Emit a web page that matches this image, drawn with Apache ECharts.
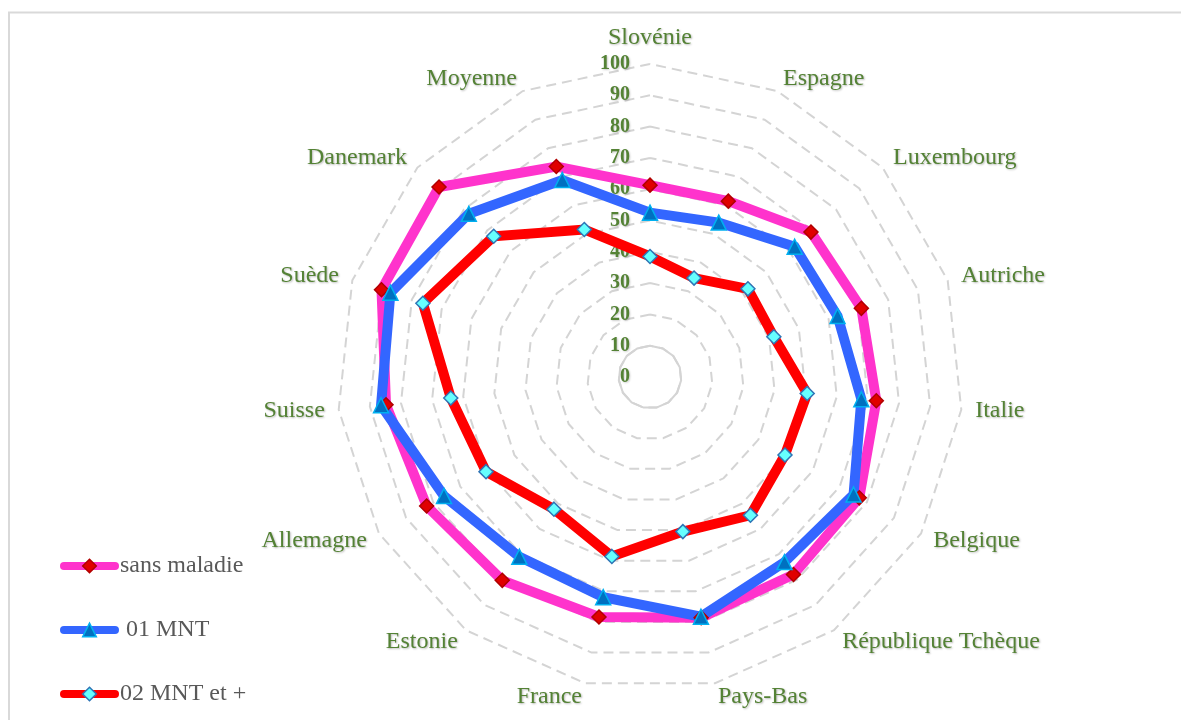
<!DOCTYPE html>
<html>
<head>
<meta charset="utf-8">
<script src="https://cdn.jsdelivr.net/npm/echarts@6/dist/echarts.min.js"></script>
<style>
html,body{margin:0;padding:0;background:#fff;}
#chart{width:1181px;height:720px;}
</style>
</head>
<body>
<div id="chart"></div>
<script>
// ---- data (clockwise from top) ----
const categories = ['Slovénie','Espagne','Luxembourg','Autriche','Italie','Belgique','République Tchèque','Pays-Bas','France','Estonie','Allemagne','Suisse','Suède','Danemark','Moyenne'];
const seriesNames = ['sans maladie', ' 01 MNT', '02 MNT et +'];
const sansMaladie = [61.3, 61.5, 69.2, 71.0, 72.7, 77.2, 78.0, 78.6, 78.4, 80.3, 82.4, 84.8, 90.2, 90.7, 73.6];
const mnt01 =       [52.5, 54.0, 62.2, 63.0, 67.9, 75.1, 73.1, 78.3, 71.9, 71.0, 76.0, 86.4, 87.2, 77.9, 68.9];
const mnt02 =       [38.5, 34.6, 42.1, 41.6, 50.5, 49.8, 54.6, 50.5, 58.6, 52.2, 60.5, 64.0, 76.3, 67.2, 51.6];
const tickValues = [0,10,20,30,40,50,60,70,80,90,100];

// ECharts radar runs counter-clockwise: reorder so the picture runs clockwise
const order = [0].concat(categories.slice(1).map((_, i) => categories.length - 1 - i));
const reorder = arr => order.map(i => arr[i]);

const CX = 650, CY = 377, R = 313;
const green = '#548235';
const serif = '"Liberation Serif", "Times New Roman", serif';

const indicators = order.map((i, k) => {
  const ind = { name: categories[i], min: tickValues[0], max: tickValues[tickValues.length - 1] };
  if (k === 0) ind.axisLabel = { show: true };
  return ind;
});

const styles = [
  { line: '#ff33cc', symbol: 'diamond', size: 14, fill: '#e00000', border: '#b00000' },
  { line: '#3366ff', symbol: 'triangle', size: 15, fill: '#0070c0', border: '#00b0f0' },
  { line: '#ff0000', symbol: 'diamond', size: 14, fill: '#66ffff', border: '#2e75b6' }
];
const values = [sansMaladie, mnt01, mnt02];

const legendSeries = seriesNames.map((n, k) => ({
  type: 'line', name: n, xAxisIndex: 0, yAxisIndex: 0, data: [],
  symbol: styles[k].symbol, symbolSize: styles[k].size,
  lineStyle: { color: styles[k].line, width: 8, cap: 'round' },
  itemStyle: { color: styles[k].fill, borderColor: styles[k].border, borderWidth: 1.5 }
}));

const radarSeries = seriesNames.map((n, k) => ({
  type: 'radar', name: n, radarIndex: 0,
  symbol: styles[k].symbol, symbolSize: styles[k].size,
  lineStyle: { color: styles[k].line, width: 10, join: 'miter' },
  itemStyle: { color: styles[k].fill, borderColor: styles[k].border, borderWidth: 1.5 },
  data: [{ name: n, value: reorder(values[k]) }]
}));

const option = {
  animation: false,
  backgroundColor: '#fff',
  graphic: [{
    type: 'rect', shape: { x: 9, y: 12.5, width: 1180, height: 720 },
    style: { fill: 'none', stroke: '#d9d9d9', lineWidth: 2 }, silent: true
  }],
  grid: { show: false, left: 0, top: 0, width: 1, height: 1 },
  xAxis: { show: false, type: 'category', data: [] },
  yAxis: { show: false, type: 'value' },
  legend: {
    orient: 'vertical', left: 60, top: 554, height: 170, padding: 0,
    itemWidth: 51, itemHeight: 17, itemGap: 40,
    textStyle: { fontFamily: serif, fontSize: 24, color: '#595959' },
    data: seriesNames.map((n, k) => ({
      name: n,
      lineStyle: { color: styles[k].line, width: 8, cap: 'round' },
      itemStyle: { color: styles[k].fill, borderColor: styles[k].border, borderWidth: 1.5 }
    }))
  },
  radar: [{
    center: [CX, CY], radius: R, startAngle: 90, shape: 'polygon',
    splitNumber: tickValues.length - 1,
    indicator: indicators,
    axisName: {
      color: green, fontFamily: serif, fontSize: 24,
      textShadowColor: 'rgba(0,0,0,0.28)', textShadowBlur: 2, textShadowOffsetX: 1, textShadowOffsetY: 1
    },
    nameGap: 14,
    axisLine: { show: false },
    axisTick: { show: false },
    axisLabel: {
      show: false, color: green, fontFamily: serif, fontSize: 20, fontWeight: 'bold', margin: 20,
      textShadowColor: 'rgba(0,0,0,0.2)', textShadowBlur: 2, textShadowOffsetX: 1, textShadowOffsetY: 1
    },
    splitLine: { lineStyle: { color: '#d4d4d4', width: 2, type: [10, 6] } },
    splitArea: { show: false }
  }, {
    center: [CX, CY], radius: R * (tickValues[1] - tickValues[0]) / (tickValues[tickValues.length - 1] - tickValues[0]),
    startAngle: 90, shape: 'polygon', splitNumber: 1,
    indicator: order.map(() => ({ name: '', min: 0, max: 10 })),
    axisName: { show: false },
    axisLine: { show: false }, axisTick: { show: false }, axisLabel: { show: false },
    splitLine: { lineStyle: { color: '#d4d4d4', width: 2, type: 'solid' } },
    splitArea: { show: false }
  }],
  series: legendSeries.concat(radarSeries)
};

const chart = echarts.init(document.getElementById('chart'), null, { renderer: 'canvas' });
chart.setOption(option);
</script>
</body>
</html>
